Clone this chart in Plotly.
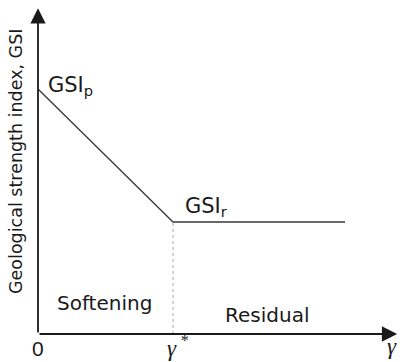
import plotly.graph_objects as go

# Data (schematic values)
gamma_pts = [0.0, 1.0, 2.274]          # strain: 0, gamma*, end of residual
gsi_pts = [70.0, 32.0, 32.0]           # GSI_p, GSI_r, GSI_r
gamma_star = 1.0
gsi_r = 32.0
x_max = 2.681
y_max = 95.43
x_arrow_tip = 2.66
y_arrow_tip = 93.1

x_tick_vals = [0.0, 1.0, 2.63]
x_tick_text = ["0", "γ<sup> *</sup>", "γ"]

fig = go.Figure()

fig.add_trace(go.Scatter(x=gamma_pts, y=gsi_pts, mode="lines",
                         line=dict(color="#3a3a3a", width=1.3),
                         hoverinfo="skip", showlegend=False))
fig.add_trace(go.Scatter(x=[gamma_star, gamma_star], y=[0, gsi_r], mode="lines",
                         line=dict(color="#aaaaaa", width=1, dash="dot"),
                         hoverinfo="skip", showlegend=False))

for (tx, ty) in [(x_arrow_tip, 0), (0, y_arrow_tip)]:
    fig.add_annotation(x=tx, y=ty, ax=0, ay=0, xref="x", yref="y",
                       axref="x", ayref="y", text="", showarrow=True,
                       arrowhead=2, arrowsize=1.7, arrowwidth=1.8,
                       arrowcolor="#1a1a1a", standoff=0, startstandoff=0)

sans = "DejaVu Sans"
txtc = "#1a1a1a"

fig.add_annotation(x=0.060, y=70.8, text="GSI<sub>p</sub>", showarrow=False,
                   xanchor="left", yanchor="middle",
                   font=dict(family=sans, size=21, color=txtc))
fig.add_annotation(x=1.075, y=36.3, text="GSI<sub>r</sub>", showarrow=False,
                   xanchor="left", yanchor="middle",
                   font=dict(family=sans, size=21, color=txtc))
fig.add_annotation(x=0.496, y=8.9, text="Softening", showarrow=False,
                   xanchor="center", yanchor="middle",
                   font=dict(family=sans, size=20, color=txtc))
fig.add_annotation(x=1.696, y=5.4, text="Residual", showarrow=False,
                   xanchor="center", yanchor="middle",
                   font=dict(family=sans, size=20, color=txtc))

# paper coords: plot area is x 38..400 px, y 0..334 px
def px(xp):
    return (xp - 38) / 362.0

def py(yp):
    return (334 - yp) / 334.0

fig.add_annotation(x=px(16), y=py(162), xref="paper", yref="paper",
                   text="Geological strength index, GSI",
                   showarrow=False, textangle=-90, xanchor="center", yanchor="middle",
                   font=dict(family=sans, size=17.5, color=txtc))

tick_px = [38 + v * 135 for v in x_tick_vals]
fig.add_annotation(x=px(tick_px[0]), y=py(348), xref="paper", yref="paper",
                   text=x_tick_text[0], showarrow=False,
                   xanchor="center", yanchor="middle",
                   font=dict(family="Liberation Sans", size=21, color=txtc))
fig.add_annotation(x=px(tick_px[1] - 8), y=py(346), xref="paper", yref="paper",
                   text=x_tick_text[1], showarrow=False,
                   xanchor="left", yanchor="middle",
                   font=dict(family="Liberation Serif", size=23, color=txtc, style="italic"))
fig.add_annotation(x=px(tick_px[2] - 8), y=py(346), xref="paper", yref="paper",
                   text=x_tick_text[2], showarrow=False,
                   xanchor="left", yanchor="middle",
                   font=dict(family="Liberation Serif", size=23, color=txtc, style="italic"))

fig.update_xaxes(range=[0, x_max], visible=False, fixedrange=True)
fig.update_yaxes(range=[0, y_max], visible=False, fixedrange=True)
fig.update_layout(width=400, height=362,
                  margin=dict(l=38, r=0, t=0, b=28),
                  plot_bgcolor="white", paper_bgcolor="white",
                  showlegend=False)

fig.write_html("out.html", config={"displayModeBar": False})
